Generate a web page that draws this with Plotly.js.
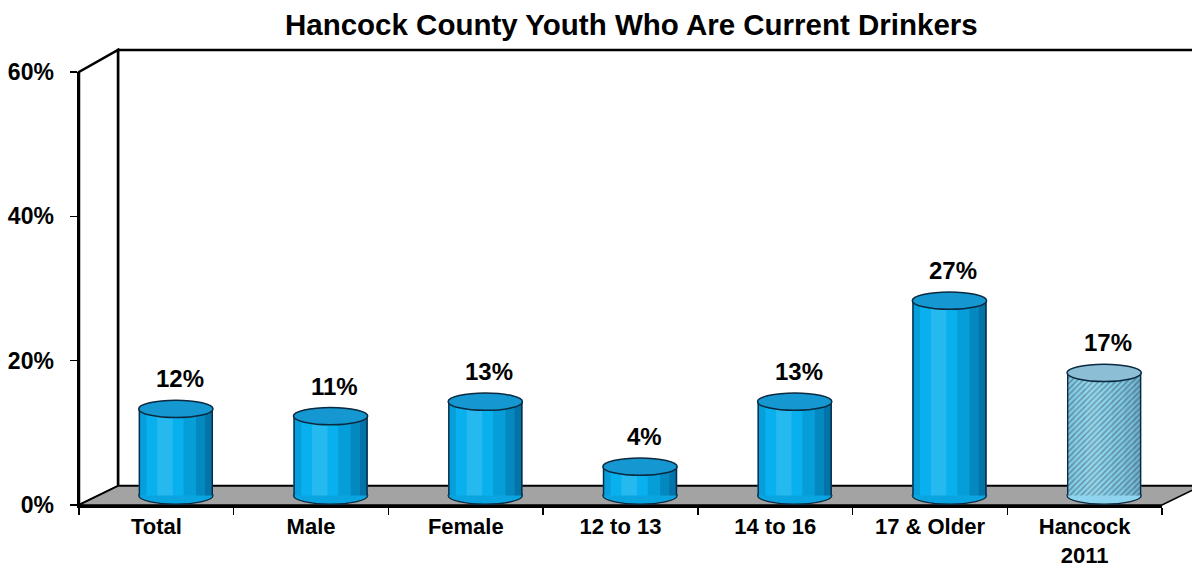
<!DOCTYPE html>
<html>
<head>
<meta charset="utf-8">
<script src="https://cdn.plot.ly/plotly-3.0.1.min.js"></script>
<style>html,body{margin:0;padding:0;background:#fff;}#chart{width:1192px;height:569px;}</style>
</head>
<body>
<div id="chart"></div>
<script>
// ---- data ----
const categories = ['Total', 'Male', 'Female', '12 to 13', '14 to 16', '17 & Older', 'Hancock<br>2011'];
const values = [12, 11, 13, 4, 13, 27, 17];
const valueLabels = ['12%', '11%', '13%', '4%', '13%', '27%', '17%'];
const yTicks = [0, 20, 40, 60];
const yTickLabels = ['0%', '20%', '40%', '60%'];
const chartTitle = 'Hancock County Youth Who Are Current Drinkers';

// ---- styling ----
const FONT = 'Liberation Sans, Arial, sans-serif';
const isRef = categories.map((c, i) => i === categories.length - 1);
const bodyColors = isRef.map(r => r ? '#86d3ef' : '#08b0ee');
const capColors = isRef.map(r => r ? '#8cbfd6' : '#1597d2');
const bottomColors = isRef.map(r => r ? '#8ed4ee' : '#0aa4e0');
const patternShapes = isRef.map(r => r ? '/' : '');
const OUT = '#0b2a40';

// depth geometry (pixels)
const W = 1192, H = 569, ml = 79, mr = 30, mt = 72, mb = 64;
const pw = W - ml - mr, ph = H - mt - mb;
const depthX = 39, depthY = 19;
const dxP = depthX / pw, dyP = depthY / ph;
const yMax = 60;
const catPx = pw / categories.length;
const shiftX = (depthX / 2) / catPx;
const shiftY = (depthY / 2) / (ph / yMax);

const xIdx = categories.map((c, i) => i);
const half = 0.24;
const capH = 1.2;

function shade(offset, width, alpha, refAlpha, rgb) {
  const base = rgb || '0,40,80';
  return {
    type: 'bar', x: xIdx, y: values, xaxis: 'x2', yaxis: 'y2',
    width: width, offset: offset,
    marker: {color: isRef.map(r => `rgba(${base},${r ? refAlpha : alpha})`), line: {width: 0}},
    hoverinfo: 'skip', showlegend: false
  };
}

const traces = [
  {type: 'scatter', x: categories, y: values.map(() => 0), mode: 'markers',
   marker: {opacity: 0}, hoverinfo: 'skip', showlegend: false},
  {type: 'bar', x: xIdx, y: values, xaxis: 'x2', yaxis: 'y2',
   width: 0.48, offset: -half,
   marker: {color: bodyColors, line: {width: 0},
            pattern: {shape: patternShapes, fillmode: 'overlay', fgcolor: 'rgba(255,255,255,0.9)', size: 4, solidity: 0.35}},
   hoverinfo: 'skip', showlegend: false},
  shade(-half, 0.05, 0.12, 0.05),
  shade(-0.12, 0.10, 0.12, 0.08, '255,255,255'),
  shade(0.05, 0.19, 0.13, 0.05),
  shade(0.13, 0.11, 0.18, 0.06),
  shade(0.19, 0.05, 0.22, 0.08),
  shade(-half, 0.009, 1, 1, '11,42,64'),
  shade(half - 0.009, 0.009, 1, 1, '11,42,64')
];

const shapes = [
  // back wall
  {type: 'rect', xref: 'paper', yref: 'paper', x0: dxP, x1: 1.3, y0: dyP, y1: 1 + 22 / ph,
   fillcolor: '#ffffff', line: {color: '#000', width: 2.5}, layer: 'below'},
  // left side wall
  {type: 'path', xref: 'paper', yref: 'paper',
   path: `M 0,0 L 0,1 L ${dxP},${1 + 22 / ph} L ${dxP},${dyP} Z`,
   fillcolor: '#ffffff', line: {color: '#000', width: 2.5}, layer: 'below'},
  // floor
  {type: 'path', xref: 'paper', yref: 'paper',
   path: `M 0,0 L 1,0 L ${1 + dxP},${dyP} L ${dxP},${dyP} Z`,
   fillcolor: '#a3a3a3', line: {color: '#000', width: 1.5}, layer: 'below'}
];
// bottom caps (below bars)
xIdx.forEach((i) => {
  shapes.push({type: 'circle', xref: 'x2', yref: 'y2', x0: i - half, x1: i + half, y0: -capH, y1: capH,
    fillcolor: bottomColors[i], line: {color: OUT, width: 1.3}, layer: 'below'});
});
// top caps
xIdx.forEach((i) => {
  shapes.push({type: 'circle', xref: 'x2', yref: 'y2', x0: i - half, x1: i + half,
    y0: values[i] - capH, y1: values[i] + capH,
    fillcolor: capColors[i], line: {color: OUT, width: 1.5}, layer: 'above'});
});

const annotations = xIdx.map((i) => ({
  xref: 'x2', yref: 'y2', x: i, y: values[i], text: valueLabels[i],
  showarrow: false, yshift: 30, xshift: 4, yanchor: 'middle',
  font: {family: FONT, size: 24, weight: 'bold', color: '#000'}
}));

const layout = {
  width: W, height: H,
  margin: {l: ml, r: mr, t: mt, b: mb, pad: 0},
  paper_bgcolor: '#ffffff', plot_bgcolor: '#ffffff',
  barmode: 'overlay',
  showlegend: false,
  hovermode: false,
  title: {text: chartTitle, xref: 'paper', x: 0.51, xanchor: 'center',
          yref: 'container', y: 1 - 25 / H, yanchor: 'middle',
          font: {family: FONT, size: 29.5, weight: 'bold', color: '#000'}},
  xaxis: {type: 'category', range: [-0.5, categories.length - 0.5], fixedrange: true,
          showline: true, linecolor: '#000', linewidth: 2.5, showgrid: false, zeroline: false,
          ticks: 'outside', tickson: 'boundaries', ticklen: 7, tickwidth: 1.5, tickcolor: '#000',
          ticklabelstandoff: 0,
          tickfont: {family: FONT, size: 22, weight: 'bold', color: '#000'}},
  yaxis: {range: [0, yMax], tickvals: yTicks, ticktext: yTickLabels, fixedrange: true,
          showline: true, linecolor: '#000', linewidth: 2.5, showgrid: false, zeroline: false,
          ticks: 'outside', ticklen: 7, tickwidth: 1.5, tickcolor: '#000',
          ticklabelstandoff: 11,
          tickfont: {family: FONT, size: 23, weight: 'bold', color: '#000'}},
  xaxis2: {overlaying: 'x', anchor: 'y2', range: [-0.5 - shiftX, categories.length - 0.5 - shiftX],
           visible: false, fixedrange: true},
  yaxis2: {overlaying: 'y', anchor: 'x2', range: [-shiftY, yMax - shiftY], visible: false, fixedrange: true},
  shapes: shapes,
  annotations: annotations
};

Plotly.newPlot('chart', traces, layout, {displayModeBar: false, staticPlot: true});
</script>
</body>
</html>
